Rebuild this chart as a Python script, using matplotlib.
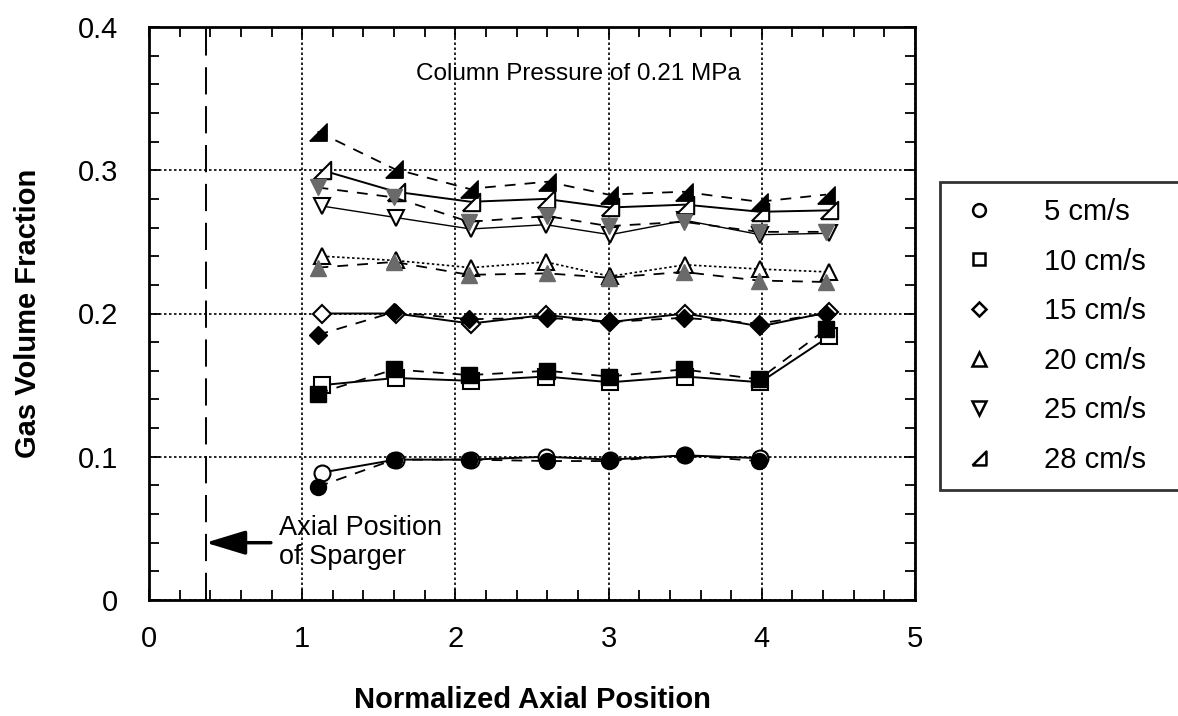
import matplotlib
matplotlib.use("Agg")
import matplotlib.pyplot as plt
from matplotlib.lines import Line2D
from matplotlib.ticker import MultipleLocator

plt.rcParams['font.family'] = ['Liberation Sans', 'DejaVu Sans']

# axial positions (open series slightly shifted from filled series)
x_open = [1.13, 1.61, 2.10, 2.59, 3.01, 3.50, 3.99, 4.44]
x_filled = [1.10, 1.60, 2.09, 2.60, 3.00, 3.49, 3.98, 4.42]

speeds = ['5 cm/s', '10 cm/s', '15 cm/s', '20 cm/s', '25 cm/s', '28 cm/s']

# gas volume fraction, open symbols (run 1)
open_5 = [0.089, 0.098, 0.098, 0.100, 0.098, 0.101, 0.099]
open_10 = [0.150, 0.155, 0.153, 0.156, 0.152, 0.156, 0.152, 0.184]
open_15 = [0.200, 0.200, 0.193, 0.199, 0.194, 0.200, 0.191, 0.201]
open_20 = [0.240, 0.237, 0.232, 0.236, 0.226, 0.234, 0.231, 0.229]
open_25 = [0.275, 0.267, 0.259, 0.262, 0.255, 0.265, 0.255, 0.256]
open_28 = [0.300, 0.285, 0.278, 0.280, 0.274, 0.276, 0.271, 0.272]

# gas volume fraction, filled symbols (run 2)
filled_5 = [0.079, 0.098, 0.098, 0.097, 0.097, 0.101, 0.097]
filled_10 = [0.144, 0.161, 0.157, 0.160, 0.156, 0.161, 0.154, 0.189]
filled_15 = [0.185, 0.201, 0.196, 0.197, 0.194, 0.197, 0.193, 0.200]
filled_20 = [0.232, 0.236, 0.227, 0.228, 0.225, 0.229, 0.223, 0.222]
filled_25 = [0.288, 0.281, 0.264, 0.268, 0.261, 0.264, 0.257, 0.257]
filled_28 = [0.327, 0.301, 0.287, 0.292, 0.283, 0.285, 0.278, 0.283]

sparger_x = 0.37
sparger_y = 0.04

right_tri = [(-1, -1), (1, -1), (1, 1), (-1, -1)]
markers = ['o', 's', 'D', '^', 'v', right_tri]
msizes = [11.5, 11.5, 9, 12, 12, 12.5]
fill_colors = ['black', 'black', 'black', '#6a6a6a', '#6a6a6a', 'black']
open_styles = ['-', '-', '-', (0, (1.5, 1.5)), '-', '-']
open_lw = [1.4, 1.4, 1.4, 1.2, 1.0, 1.4]

opens = [open_5, open_10, open_15, open_20, open_25, open_28]
filleds = [filled_5, filled_10, filled_15, filled_20, filled_25, filled_28]

fig = plt.figure(figsize=(11.78, 7.16), dpi=100)
ax = fig.add_axes([149 / 1178, 1 - 600 / 716, (915 - 149) / 1178, (600 - 27) / 716])

for i in range(len(speeds)):
    yo = opens[i]
    yf = filleds[i]
    ax.plot(x_open[:len(yo)], yo, linestyle=open_styles[i], lw=open_lw[i],
            color='black', marker=markers[i], ms=msizes[i],
            mfc='white', mec='black', mew=1.5, zorder=3)
    ax.plot(x_filled[:len(yf)], yf, linestyle=(0, (6, 5)), lw=1.3,
            color='black', marker=markers[i], ms=msizes[i],
            mfc=fill_colors[i], mec=fill_colors[i], mew=1.0, zorder=4)

# sparger position
ax.axvline(sparger_x, color='black', lw=1.4, linestyle=(0, (14, 6)), zorder=2)
ax.annotate('Axial Position\nof Sparger', xy=(sparger_x, sparger_y),
            xytext=(0.85, sparger_y), fontsize=19.5, ha='left', va='center',
            linespacing=1.15,
            arrowprops=dict(arrowstyle='-|>,head_length=1.25,head_width=0.38',
                            lw=2.5, color='black', shrinkA=4, shrinkB=0))

ax.text(1.74, 0.367, 'Column Pressure of 0.21 MPa', fontsize=17.5,
        ha='left', va='center')

ax.set_xlim(0, 5)
ax.set_ylim(0, 0.4)
ax.xaxis.set_major_locator(MultipleLocator(1))
ax.xaxis.set_minor_locator(MultipleLocator(0.2))
ax.yaxis.set_major_locator(MultipleLocator(0.1))
ax.yaxis.set_minor_locator(MultipleLocator(0.02))
ax.set_yticks([0, 0.1, 0.2, 0.3, 0.4])
ax.set_yticklabels(['0', '0.1', '0.2', '0.3', '0.4'])
ax.tick_params(which='both', direction='in', top=True, right=True,
               color='black', width=1.3)
ax.tick_params(which='major', length=8)
ax.tick_params(which='minor', length=7)
ax.tick_params(axis='x', which='major', labelsize=21, pad=18)
ax.tick_params(axis='y', which='major', labelsize=21, pad=22)
ax.grid(True, which='major', color='black', lw=1.2, linestyle=(0, (1.5, 1.5)))
for s in ax.spines.values():
    s.set_linewidth(2)

ax.set_xlabel('Normalized Axial Position', fontsize=21, fontweight='bold',
              labelpad=24)
ax.set_ylabel('Gas Volume Fraction', fontsize=21, fontweight='bold',
              labelpad=26)

handles = [Line2D([], [], linestyle='none', marker=markers[i],
                  ms=msizes[i] * 0.8, mfc='white', mec='black', mew=1.8)
           for i in range(len(speeds))]
leg = fig.legend(handles, speeds, loc='upper left',
                 bbox_to_anchor=(940 / 1178, 1 - 495 / 716, 260 / 1178, 313 / 716),
                 mode='expand', fontsize=21, frameon=True, fancybox=False,
                 edgecolor='black', borderpad=0.55, labelspacing=0.74,
                 handlelength=1.6, handletextpad=1.4, borderaxespad=0)
leg.get_frame().set_linewidth(2)

fig.savefig('out.png', dpi=100)
